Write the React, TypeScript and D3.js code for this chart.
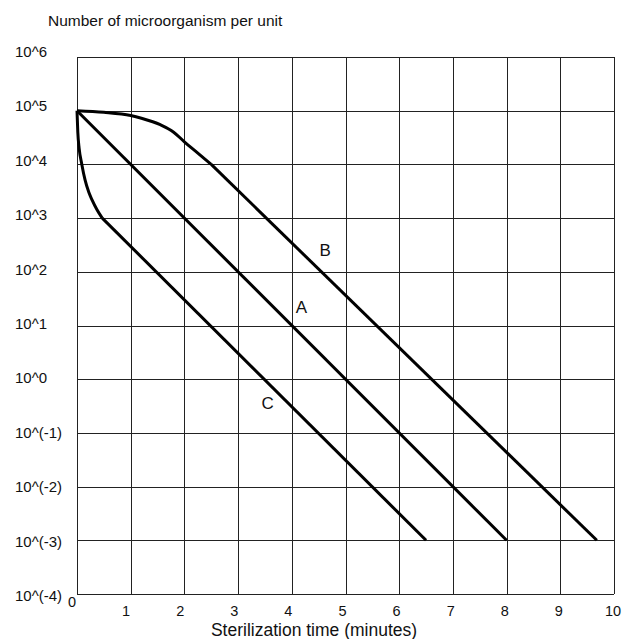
import React, { useEffect, useRef } from 'react';
import * as d3 from 'd3';

// exponents of the y gridlines (10^n), top to bottom
const yExponents = [6, 5, 4, 3, 2, 1, 0, -1, -2, -3, -4];
const yLabels = ['10^6', '10^5', '10^4', '10^3', '10^2', '10^1', '10^0', '10^(-1)', '10^(-2)', '10^(-3)', '10^(-4)'];
const xTicks = [0, 1, 2, 3, 4, 5, 6, 7, 8, 9, 10];

// curves: [minutes, log10(count)]; bent part then straight part
const bendA: [number, number][] = [];
const straightA: [number, number][] = [[0, 5], [8, -3]];
const bendB: [number, number][] = [
  [0, 5], [0.5, 4.97], [1.0, 4.91], [1.2, 4.86], [1.55, 4.74], [1.8, 4.6],
  [2.0, 4.42], [2.25, 4.21], [2.5, 4.0],
];
const straightB: [number, number][] = [[2.5, 4.0], [9.68, -3]];
const bendC: [number, number][] = [
  [0, 5], [0.015, 4.6], [0.04, 4.3], [0.09, 4.0], [0.15, 3.71], [0.22, 3.48],
  [0.28, 3.34], [0.37, 3.16], [0.47, 3.0],
];
const straightC: [number, number][] = [[0.47, 3.0], [6.5, -3]];
const curveLabels = [
  { name: 'B', x: 4.62, y: 2.3 },
  { name: 'A', x: 4.18, y: 1.24 },
  { name: 'C', x: 3.55, y: -0.55 },
];

export default function App() {
  const svgRef = useRef<SVGSVGElement>(null);

  useEffect(() => {
    if (!svgRef.current) return;
    const width = 631;
    const height = 639;
    const left = 77, right = 614, top = 57, bottom = 594;
    const font = '"Liberation Sans", Arial, sans-serif';

    const svg = d3.select(svgRef.current);
    svg.selectAll('*').remove();
    svg.attr('width', width).attr('height', height).attr('viewBox', `0 0 ${width} ${height}`);

    const x = d3.scaleLinear().domain([0, 10]).range([left, right]);
    const y = d3.scaleLog().domain([1e-4, 1e6]).range([bottom, top]);
    const ye = (e: number) => y(Math.pow(10, e));
    const xLab = d3.scaleLinear().domain([0, 10]).range([72, 613]);
    const yLab = d3.scaleLog().domain([1e-4, 1e6]).range([601, 57]);

    svg.append('rect').attr('width', width).attr('height', height).attr('fill', '#fff');

    const grid = svg.append('g').attr('stroke', '#222').attr('stroke-width', 1).attr('shape-rendering', 'crispEdges');
    grid.selectAll('line.v').data(xTicks).enter().append('line')
      .attr('x1', d => Math.round(x(d)) + 0.5).attr('x2', d => Math.round(x(d)) + 0.5)
      .attr('y1', top).attr('y2', bottom);
    grid.selectAll('line.h').data(yExponents).enter().append('line')
      .attr('x1', left).attr('x2', right)
      .attr('y1', d => Math.round(ye(d)) + 0.5).attr('y2', d => Math.round(ye(d)) + 0.5);

    // y labels
    svg.append('g').selectAll('text').data(yExponents).enter().append('text')
      .attr('x', 15).attr('y', d => yLab(Math.pow(10, d)))
      .attr('font-family', font).attr('font-size', 15).attr('fill', '#111')
      .text((d, i) => yLabels[i]);

    // x labels
    svg.append('g').selectAll('text').data(xTicks).enter().append('text')
      .attr('x', d => xLab(d)).attr('y', d => d === 0 ? 607 : 616)
      .attr('text-anchor', 'middle')
      .attr('font-family', font).attr('font-size', 14.5).attr('fill', '#111')
      .text(d => String(d));

    svg.append('text').attr('x', 48).attr('y', 26)
      .attr('font-family', font).attr('font-size', 15.5).attr('fill', '#111')
      .text('Number of microorganism per unit');
    svg.append('text').attr('x', 314).attr('y', 636).attr('text-anchor', 'middle')
      .attr('font-family', font).attr('font-size', 17.5).attr('fill', '#111')
      .text('Sterilization time (minutes)');

    const bent = d3.line<[number, number]>()
      .x(d => x(d[0])).y(d => ye(d[1]))
      .curve(d3.curveMonotoneX);
    const straight = d3.line<[number, number]>()
      .x(d => x(d[0])).y(d => ye(d[1]));

    const curves = svg.append('g').attr('fill', 'none').attr('stroke', '#000')
      .attr('stroke-width', 3).attr('stroke-linejoin', 'round');
    curves.selectAll('path.bent').data([bendA, bendB, bendC].filter(d => d.length)).enter().append('path')
      .attr('d', d => bent(d) as string);
    curves.selectAll('path.straight').data([straightA, straightB, straightC]).enter().append('path')
      .attr('d', d => straight(d) as string);

    svg.append('g').selectAll('text').data(curveLabels).enter().append('text')
      .attr('x', d => x(d.x)).attr('y', d => ye(d.y))
      .attr('text-anchor', 'middle')
      .attr('font-family', font).attr('font-size', 17).attr('fill', '#111')
      .text(d => d.name);
  }, []);

  return (
    <div style={{ position: 'absolute', left: 0, top: 0 }}>
      <svg ref={svgRef} style={{ display: 'block' }}></svg>
    </div>
  );
}
